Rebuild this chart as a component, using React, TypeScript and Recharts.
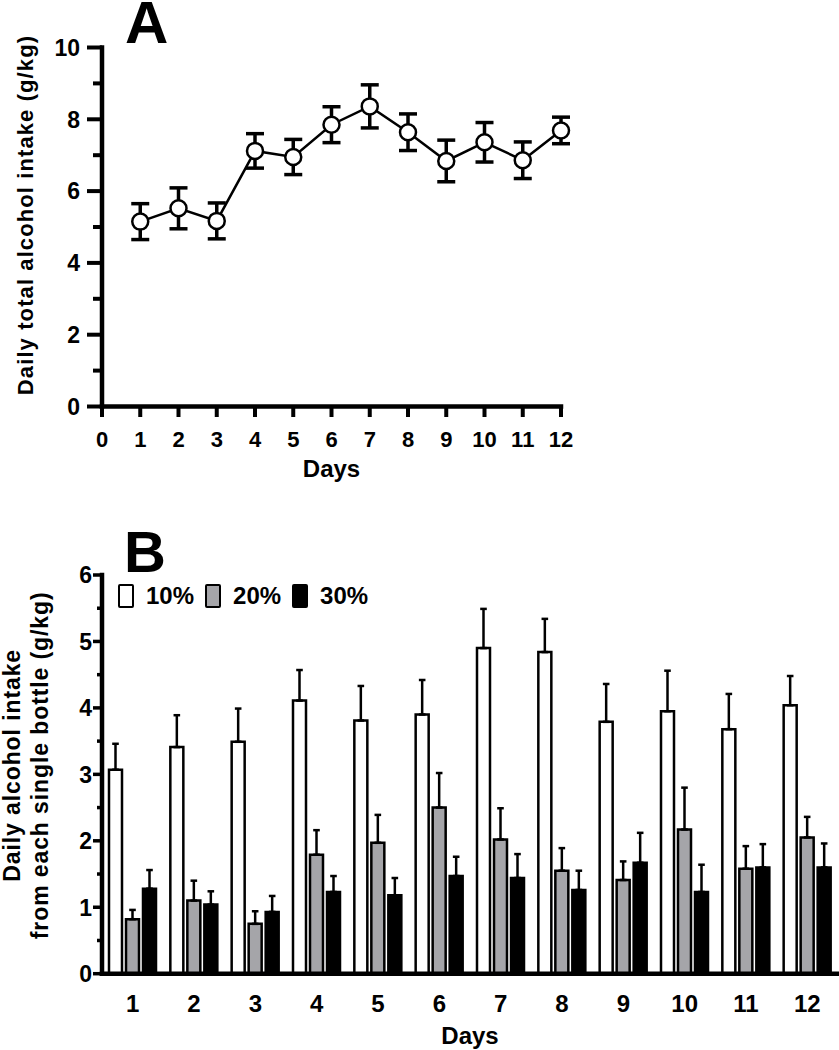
import React from "react";
import { LineChart, Line, BarChart, Bar, XAxis, YAxis, ErrorBar } from "recharts";

// Panel A: daily total alcohol intake (mean ± SEM)
const days = [1, 2, 3, 4, 5, 6, 7, 8, 9, 10, 11, 12];
const totalIntake = [5.15, 5.52, 5.17, 7.12, 6.95, 7.85, 8.36, 7.64, 6.84, 7.36, 6.86, 7.69];
const totalSem = [0.5, 0.57, 0.5, 0.48, 0.49, 0.5, 0.6, 0.51, 0.58, 0.55, 0.51, 0.37];
const xTicksA = [0, 1, 2, 3, 4, 5, 6, 7, 8, 9, 10, 11, 12];
const yTicksA = [0, 1, 2, 3, 4, 5, 6, 7, 8, 9, 10];

// Panel B: intake from each bottle (mean + SEM)
const seriesNames = ["10%", "20%", "30%"];
const seriesFills = ["#ffffff", "#a5a5a9", "#000000"];
const intake10 = [3.07, 3.41, 3.49, 4.11, 3.81, 3.9, 4.9, 4.84, 3.79, 3.95, 3.68, 4.04];
const sem10 = [0.39, 0.48, 0.5, 0.46, 0.52, 0.52, 0.59, 0.5, 0.57, 0.61, 0.53, 0.44];
const intake20 = [0.82, 1.1, 0.75, 1.79, 1.97, 2.5, 2.02, 1.55, 1.41, 2.17, 1.58, 2.05];
const sem20 = [0.14, 0.3, 0.19, 0.37, 0.42, 0.52, 0.47, 0.34, 0.28, 0.63, 0.34, 0.31];
const intake30 = [1.28, 1.04, 0.93, 1.23, 1.18, 1.47, 1.44, 1.26, 1.67, 1.23, 1.6, 1.6];
const sem30 = [0.28, 0.2, 0.24, 0.24, 0.26, 0.29, 0.36, 0.29, 0.45, 0.41, 0.35, 0.36];
const yTicksB = [0, 0.5, 1, 1.5, 2, 2.5, 3, 3.5, 4, 4.5, 5, 5.5, 6];

const FONT = '"Liberation Sans", Arial, Helvetica, sans-serif';

const dataA = days.map((d, i) => ({ day: d, intake: totalIntake[i], sem: totalSem[i] }));

const dataB = days.map((d, i) => ({
  day: String(d),
  p10: intake10[i],
  e10: [0, sem10[i]],
  p20: intake20[i],
  e20: [0, sem20[i]],
  p30: intake30[i],
  e30: [0, sem30[i]],
}));

// y ticks: long tick + label on major values, short tick on minor ones
const makeYTick =
  (opts: { isMajor: (v: number) => boolean; major: number; minor: number; gap: number; fs: number; sw: number }) =>
  (props: any) => {
    const { x, y, payload } = props;
    const v = payload.value;
    const major = opts.isMajor(v);
    return (
      <g>
        <line x1={x - (major ? opts.major : opts.minor)} x2={x} y1={y} y2={y} stroke="#000" strokeWidth={opts.sw} />
        {major && (
          <text x={x - opts.gap} y={y} dy="0.36em" textAnchor="end" fontFamily={FONT} fontWeight="bold" fontSize={opts.fs} fill="#000">
            {v}
          </text>
        )}
      </g>
    );
  };

const rotatedLabel =
  (lines: string[], baseX: number, shiftY: number, fs: number, lineGap: number, spacing: number) => (props: any) => {
    const vb = props.viewBox || { x: 0, y: 0, width: 0, height: 0 };
    const cx = vb.x + baseX;
    const cy = vb.y + vb.height / 2 + shiftY;
    return (
      <text
        x={cx}
        y={cy}
        transform={`rotate(-90 ${cx} ${cy})`}
        textAnchor="middle"
        fontFamily={FONT}
        fontWeight="bold"
        fontSize={fs}
        letterSpacing={spacing}
        fill="#000"
      >
        {lines.map((l, i) => (
          <tspan key={i} x={cx} dy={i === 0 ? 0 : lineGap}>
            {l}
          </tspan>
        ))}
      </text>
    );
  };

const axisStyle = { stroke: "#000", strokeWidth: 4.5, strokeLinecap: "square" as const };

export default function App() {
  return (
    <div style={{ position: "absolute", left: 0, top: 0, width: 839, height: 1050, background: "#fff", overflow: "hidden" }}>
      <div style={{ position: "absolute", left: 0, top: 0 }}>
        <LineChart width={839} height={500} data={dataA} margin={{ top: 47.5, right: 278, left: 0, bottom: 19.5 }}>
          <XAxis
            dataKey="day"
            type="number"
            domain={[0, 12]}
            ticks={xTicksA}
            interval={0}
            axisLine={axisStyle}
            tickLine={{ stroke: "#000", strokeWidth: 4 }}
            tickSize={10.5}
            tickMargin={14.5}
            tick={{ fontSize: 22, fontFamily: FONT, fontWeight: "bold", fill: "#000" }}
            height={74}
            label={{ value: "Days", position: "insideBottom", offset: 3.5, fill: "#000", fontSize: 24, fontWeight: "bold", fontFamily: FONT }}
          />
          <YAxis
            type="number"
            domain={[0, 10]}
            ticks={yTicksA}
            interval={0}
            width={102}
            axisLine={axisStyle}
            tickLine={false}
            tickSize={0}
            tickMargin={0}
            tick={makeYTick({ isMajor: (v) => v % 2 === 0, major: 15, minor: 9, gap: 22, fs: 23, sw: 4 })}
            label={rotatedLabel(["Daily total alcohol intake (g/kg)"], 33, -12, 22, 0, 1.1)}
          />
          <Line
            dataKey="intake"
            stroke="#000"
            strokeWidth={2.5}
            dot={{ r: 8, fill: "#fff", stroke: "#000", strokeWidth: 2.5 }}
            isAnimationActive={false}
          >
            <ErrorBar dataKey="sem" direction="y" width={9} strokeWidth={3.5} stroke="#000" />
          </Line>
        </LineChart>
      </div>

      <div style={{ position: "absolute", left: 0, top: 500 }}>
        <BarChart
          width={839}
          height={550}
          data={dataB}
          barSize={13}
          barGap={4}
          margin={{ top: 75, right: 1, left: 0, bottom: 2.3 }}
        >
          <XAxis
            dataKey="day"
            type="category"
            axisLine={axisStyle}
            tickLine={false}
            tickSize={0}
            tickMargin={21}
            interval={0}
            tick={{ fontSize: 24, fontFamily: FONT, fontWeight: "bold", fill: "#000" }}
            height={74}
            label={{ value: "Days", position: "insideBottom", offset: 4, fill: "#000", fontSize: 24, fontWeight: "bold", fontFamily: FONT }}
          />
          <YAxis
            type="number"
            domain={[0, 6]}
            ticks={yTicksB}
            interval={0}
            width={102}
            axisLine={axisStyle}
            tickLine={false}
            tickSize={0}
            tickMargin={0}
            tick={makeYTick({ isMajor: (v) => Number.isInteger(v), major: 9, minor: 5, gap: 10, fs: 23, sw: 3.5 })}
            label={rotatedLabel(["Daily alcohol intake", "from each single bottle (g/kg)"], 20, -9, 23, 28.5, 0.9)}
          />
          <Bar dataKey="p10" name={seriesNames[0]} fill={seriesFills[0]} stroke="#000" strokeWidth={2.5} isAnimationActive={false}>
            <ErrorBar dataKey="e10" direction="y" width={3.3} strokeWidth={2.5} stroke="#000" />
          </Bar>
          <Bar dataKey="p20" name={seriesNames[1]} fill={seriesFills[1]} stroke="#000" strokeWidth={2.5} isAnimationActive={false}>
            <ErrorBar dataKey="e20" direction="y" width={3.3} strokeWidth={2.5} stroke="#000" />
          </Bar>
          <Bar dataKey="p30" name={seriesNames[2]} fill={seriesFills[2]} stroke="#000" strokeWidth={2.5} isAnimationActive={false}>
            <ErrorBar dataKey="e30" direction="y" width={3.3} strokeWidth={2.5} stroke="#000" />
          </Bar>
        </BarChart>
      </div>

      {/* legend for panel B */}
      <div
        style={{
          position: "absolute",
          left: 118,
          top: 584,
          display: "flex",
          alignItems: "center",
          fontFamily: FONT,
          fontWeight: "bold",
          fontSize: 24,
          lineHeight: "24px",
          color: "#000",
        }}
      >
        {seriesNames.map((n, i) => (
          <React.Fragment key={n}>
            <span
              style={{
                display: "inline-block",
                width: 16,
                height: 24,
                boxSizing: "border-box",
                border: "2.5px solid #000",
                borderRadius: 2,
                background: seriesFills[i],
              }}
            />
            <span style={{ marginLeft: 12, marginRight: 11 }}>{n}</span>
          </React.Fragment>
        ))}
      </div>

      {/* panel letters */}
      <svg width={839} height={1050} style={{ position: "absolute", left: 0, top: 0, pointerEvents: "none" }}>
        <text x={125} y={43} fontFamily={FONT} fontWeight="bold" fontSize={60} fill="#000">
          A
        </text>
        <text x={124} y={572} fontFamily={FONT} fontWeight="bold" fontSize={58} fill="#000">
          B
        </text>
      </svg>
    </div>
  );
}
